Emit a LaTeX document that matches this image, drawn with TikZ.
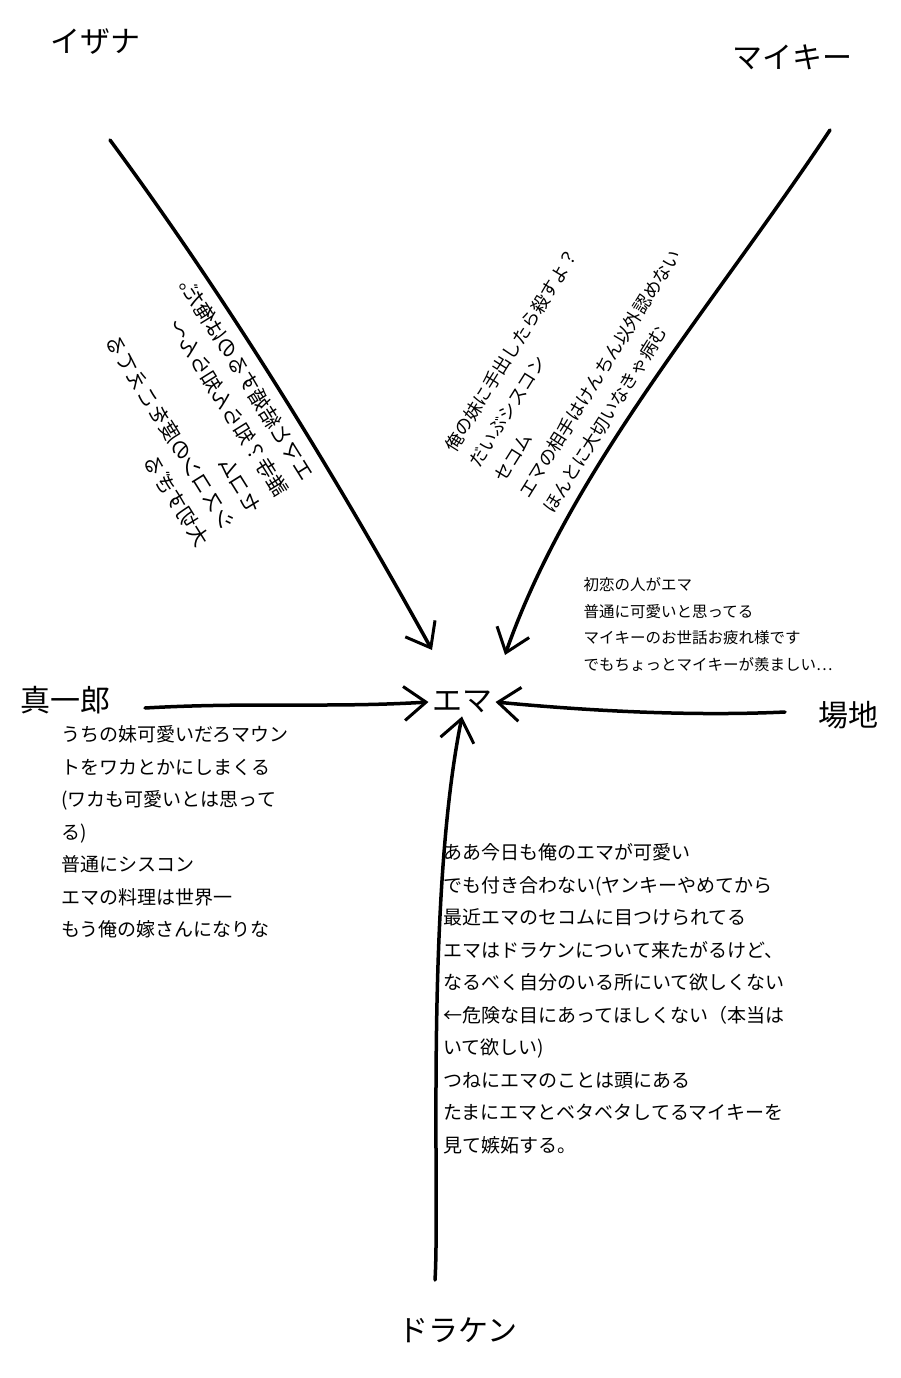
\documentclass[tikz,border=0pt]{standalone}
\usepackage{graphicx}
\usepackage{fontspec}
\newfontfamily\jp{Noto Sans CJK JP}
\usetikzlibrary{arrows.meta}
\begin{document}
\begin{tikzpicture}[x=1pt,y=-1pt,
  nm/.style={font=\jp\fontsize{30}{34}\selectfont},
  body/.style={font=\jp\fontsize{19}{32.5}\selectfont,align=left},
  rot/.style={font=\jp\fontsize{18}{29}\selectfont,align=left},
  small/.style={font=\jp\fontsize{15.5}{26.5}\selectfont,align=left},
  stroke/.style={line width=3.5pt,line cap=round,-{Straight Barb[length=22pt,width=34pt,line width=3pt]}}]
\useasboundingbox (0,0) rectangle (900,1378);
\node[nm] (iz) at (95,42) {イザナ};
\node[nm] (mk) at (792,57) {マイキー};
\node[nm] (sh) at (65,700) {真一郎};
\node[nm] (em) at (462,702) {エマ};
\node[nm] (ba) at (848,715) {場地};
\node[nm] (dr) at (458,1330) {ドラケン};
\coordinate (izs) at (110,140);
\coordinate (mks) at (830,130);
\coordinate (bas) at (785,712);
\coordinate (shs) at (145,708);
\coordinate (drs) at (435,1280);
\draw[stroke] (izs) .. controls (250,330) and (360,520) .. (432,650);
\draw[stroke] (mks) .. controls (710,310) and (570,470) .. (505,655);
\draw[stroke] (bas) .. controls (700,716) and (600,712) .. (em.east);
\draw[stroke] (shs) .. controls (250,702) and (330,708) .. (em.west);
\draw[stroke] (drs) .. controls (440,1200) and (425,900) .. (em.south);
\node[font=\jp\fontsize{20.5}{31}\selectfont,rotate=-58] (izt) at (190,408) {\reflectbox{\begin{tabular}{@{}l@{}}エマと結婚するのは俺だ。\\誰寺？知らん知らん〜\\セコム\\シスコンの度をこえてる\\大切すぎる\end{tabular}}};
\node[rot,rotate=58] (mkt) at (575,358) {俺の妹に手出したら殺すよ？\\だいぶシスコン\\セコム\\エマの相手はけんちん以外認めない\\ほんとに大切いなきゃ病む};
\node[small,anchor=north west] (bat) at (580,574) {初恋の人がエマ\\普通に可愛いと思ってる\\マイキーのお世話お疲れ様です\\でもちょっとマイキーが羨ましい…};
\node[body,anchor=north west] (sht) at (58,722) {うちの妹可愛いだろマウン\\トをワカとかにしまくる\\(ワカも可愛いとは思って\\る)\\普通にシスコン\\エマの料理は世界一\\もう俺の嫁さんになりな};
\node[body,anchor=north west] (drt) at (440,840) {ああ今日も俺のエマが可愛い\\でも付き合わない(ヤンキーやめてから\\最近エマのセコムに目つけられてる\\エマはドラケンについて来たがるけど、\\なるべく自分のいる所にいて欲しくない\\←危険な目にあってほしくない（本当は\\いて欲しい)\\つねにエマのことは頭にある\\たまにエマとベタベタしてるマイキーを\\見て嫉妬する。};
\end{tikzpicture}
\end{document}
